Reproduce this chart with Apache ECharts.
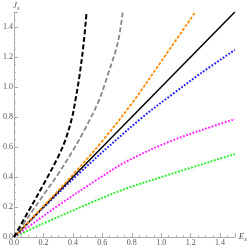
<!DOCTYPE html>
<html><head><meta charset="utf-8">
<script src="https://cdn.jsdelivr.net/npm/echarts@6/dist/echarts.min.js"></script>
<style>html,body{margin:0;padding:0;background:#fff}#c{width:250px;height:249px}</style>
</head><body><div id="c"></div>
<script>
const blackDashX = [0,0.1,0.2,0.3,0.35,0.393,0.415,0.444,0.473,0.493];
const blackDashY = [0,0.175,0.35,0.535,0.65,0.791,0.9,1.069,1.291,1.5];
const grayX = [0,0.1,0.2,0.3,0.42,0.49,0.578,0.633,0.704,0.738];
const grayY = [0,0.138,0.28,0.42,0.61,0.735,0.913,1.069,1.291,1.496];
const orangeX = [0,0.2,0.4,0.6,0.8,1.0,1.233];
const orangeY = [0,0.205,0.415,0.64,0.89,1.17,1.502];
const blackX = [0,1.5];
const blackY = [0,1.5];
const blueX = [0,0.2,0.467,0.862,1.067,1.267,1.5];
const blueY = [0,0.196,0.447,0.79,0.945,1.09,1.247];
const magentaX = [0,0.1,0.3,0.578,0.767,1.067,1.387,1.5];
const magentaY = [0,0.07,0.21,0.391,0.505,0.64,0.75,0.785];
const greenX = [0,0.2,0.567,0.767,1.067,1.5];
const greenY = [0,0.09,0.247,0.325,0.42,0.553];

const pairs = (xs, ys) => xs.map((x, i) => [x, ys[i]]);
const chart = echarts.init(document.getElementById('c'));
const axisCommon = {
  type: 'value', min: 0, max: 1.5, interval: 0.2,
  axisLine: {show: true, lineStyle: {color: '#aaa', width: 1}},
  axisTick: {show: true, inside: true, length: 4, lineStyle: {color: '#aaa'}},
  minorTick: {show: true, splitNumber: 4, length: 2, lineStyle: {color: '#bbb'}},
  splitLine: {show: false},
  axisLabel: {fontFamily: 'Liberation Serif', fontSize: 8, color: '#555', showMaxLabel: false,
    formatter: v => v.toFixed(1)},
  nameTextStyle: {fontFamily: 'Liberation Serif', fontSize: 9, color: '#555'}
};
const mk = (data, color, type, width, smooth) => ({
  type: 'line', data, showSymbol: false, symbol: 'none', smooth: smooth,
  lineStyle: {color, type, width, cap: 'butt'}, animation: false
});
chart.setOption({
  animation: false,
  grid: {left: 10, right: 15, top: 12, bottom: 12, containLabel: false},
  xAxis: Object.assign({}, axisCommon, {
    name: '{i|E}{s|x}', nameLocation: 'end', nameGap: 4,
    nameTextStyle: {rich: {i: {fontFamily: 'Liberation Serif', fontStyle: 'italic', fontSize: 9, color: '#555'},
      s: {fontFamily: 'Liberation Serif', fontStyle: 'italic', fontSize: 6, color: '#555', padding: [5,0,0,0]}}},
    axisLabel: Object.assign({}, axisCommon.axisLabel, {margin: 2})
  }),
  yAxis: Object.assign({}, axisCommon, {
    name: '{i|J}{s|x}', nameLocation: 'end', nameGap: 1,
    nameTextStyle: {align: 'left', padding: [0,0,0,-1], rich: {i: {fontFamily: 'Liberation Serif', fontStyle: 'italic', fontSize: 9, color: '#555'},
      s: {fontFamily: 'Liberation Serif', fontStyle: 'italic', fontSize: 6, color: '#555', padding: [5,0,0,0]}}},
    axisLabel: Object.assign({}, axisCommon.axisLabel, {margin: 1})
  }),
  series: [
    mk(pairs(greenX, greenY), '#22ee22', [1.8, 1.6], 2, 0.35),
    mk(pairs(magentaX, magentaY), '#ff22ff', [1.8, 1.6], 2, 0.35),
    mk(pairs(blueX, blueY), '#2222ff', [1.8, 1.6], 2, 0.35),
    mk(pairs(blackX, blackY), '#000000', 'solid', 1.5, false),
    mk(pairs(orangeX, orangeY), '#ff8800', [3, 1.6], 1.8, 0.35),
    mk(pairs(grayX, grayY), '#888888', [5, 2.5], 1.8, 0.35),
    mk(pairs(blackDashX, blackDashY), '#000000', [5, 2.5], 2, 0.35)
  ]
});
</script></body></html>
